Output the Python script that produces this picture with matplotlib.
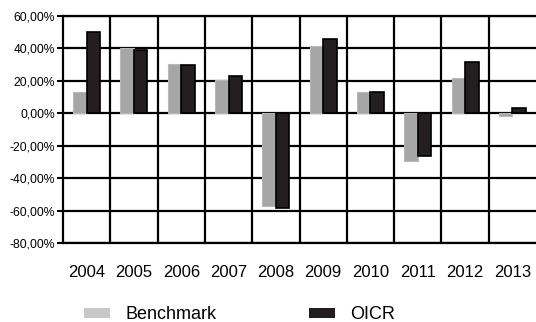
import numpy as np
import matplotlib
matplotlib.use("Agg")
import matplotlib.pyplot as plt
from matplotlib.patches import Patch
from matplotlib.ticker import FuncFormatter

plt.rcParams['font.family'] = ['Liberation Sans', 'DejaVu Sans']

# Data (annual returns, %)
years = ['2004', '2005', '2006', '2007', '2008', '2009', '2010', '2011', '2012', '2013']
benchmark = [13.2, 40.5, 30.4, 20.8, -57.0, 41.5, 13.2, -29.5, 21.9, -1.5]
oicr = [50.0, 38.9, 30.0, 23.3, -58.5, 46.0, 13.2, -26.5, 31.8, 3.0]

GRAY = '#a6a6a6'
BLACK = '#231f20'

fig = plt.figure(figsize=(5.36, 3.22), dpi=100)
ax = fig.add_axes([63 / 536, 1 - 243 / 322, 1 - 63 / 536, (243 - 16) / 322])

x = np.arange(len(years))
w = 0.285
ax.bar(x - w / 2, benchmark, w, color=GRAY, edgecolor='#b8b8b8', linewidth=0.8, zorder=3)
ax.bar(x + w / 2, oicr, w, color=BLACK, edgecolor='black', linewidth=1.2, zorder=3)

ax.set_xlim(-0.5, len(years) - 0.5)
ax.set_ylim(-80, 60)
ax.set_yticks(np.arange(-80, 61, 20))
ax.yaxis.set_major_formatter(FuncFormatter(lambda v, p: f"{v:.2f}%".replace('.', ',')))

ax.set_xticks(x)
ax.set_xticklabels(years, fontsize=12)
ax.set_xticks(np.arange(0.5, len(years) - 0.5, 1), minor=True)
ax.tick_params(axis='x', which='both', length=0, pad=16)
ax.tick_params(axis='y', labelsize=8.7, length=4, width=1.5, pad=2, colors='black')

ax.set_axisbelow(True)
ax.grid(True, axis='y', which='major', color='black', linewidth=1.6)
ax.grid(True, axis='x', which='minor', color='black', linewidth=1.6)

for s in ['left', 'top', 'bottom']:
    ax.spines[s].set_linewidth(1.6)
    ax.spines[s].set_color('black')
ax.spines['right'].set_visible(False)

handles = [Patch(facecolor='#c8c8c8', edgecolor='none', label='Benchmark'),
           Patch(facecolor=BLACK, edgecolor='none', label='OICR')]
fig.legend(handles=handles, loc='lower left', bbox_to_anchor=(68 / 536, -0.055), ncol=2,
           frameon=False, fontsize=13, handlelength=1.45, handleheight=0.45,
           handletextpad=0.85, columnspacing=5.1)

fig.savefig('out.png', dpi=100)
